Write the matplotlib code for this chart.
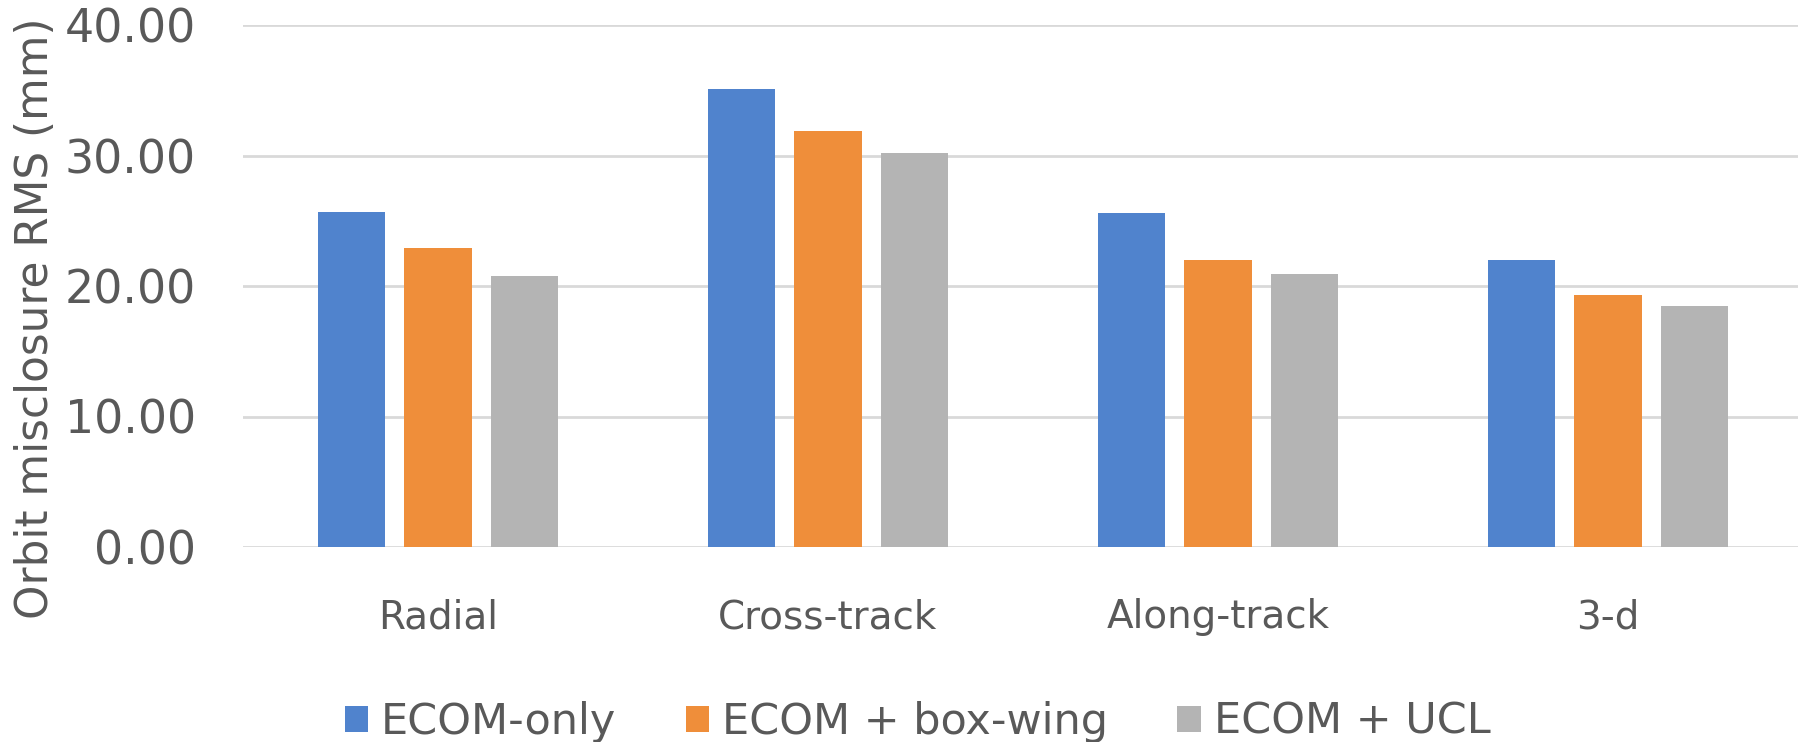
import matplotlib
matplotlib.use("Agg")
import matplotlib.pyplot as plt
import numpy as np
from matplotlib.patches import Patch

categories = ["Radial", "Cross-track", "Along-track", "3-d"]
series_names = ["ECOM-only", "ECOM + box-wing", "ECOM + UCL"]
ecom_only = [25.7, 35.1, 25.6, 22.0]
ecom_boxwing = [22.9, 31.9, 22.0, 19.3]
ecom_ucl = [20.8, 30.2, 20.9, 18.5]
y_ticks = [0, 10, 20, 30, 40]

colors = ["#5083CD", "#EF8E3A", "#B4B4B4"]
text_color = "#595959"
grid_color = "#D9D9D9"

plt.rcParams["font.family"] = ["DejaVu Sans"]

W, H = 1799, 742
fig = plt.figure(figsize=(W / 100, H / 100), dpi=100)
ax = fig.add_axes([243 / W, 1 - 547 / H, 1560 / W, 522 / H])

x = np.arange(len(categories))
bar_w = 0.1735
step = 0.222
for i, (vals, name, col) in enumerate(zip([ecom_only, ecom_boxwing, ecom_ucl], series_names, colors)):
    ax.bar(x + (i - 1) * step, vals, width=bar_w, color=col, label=name, zorder=3)

ax.set_xlim(-0.5, len(categories) - 0.5)
ax.set_ylim(0, 40)
ax.set_yticks(y_ticks)
ax.set_yticklabels([f"{v:.2f}" for v in y_ticks])
ax.set_xticks(x)
ax.set_xticklabels(categories)
ax.yaxis.grid(True, color=grid_color, linewidth=2, zorder=0)
for s in ax.spines.values():
    s.set_visible(False)
ax.tick_params(axis="y", length=0, pad=34, labelsize=33, labelcolor=text_color)
ax.tick_params(axis="x", length=0, pad=37, labelsize=28, labelcolor=text_color)

fig.text(36 / W, 1 - 318 / H, "Orbit misclosure RMS (mm)", rotation=90,
         ha="center", va="center", fontsize=31.5, color=text_color)

handles = [Patch(facecolor=c, edgecolor="none") for c in colors]
leg = fig.legend(handles, series_names, loc="center", bbox_to_anchor=(0.51, 1 - 722 / H),
                 ncol=3, frameon=False, fontsize=31, handlelength=0.55, handleheight=0.55,
                 handletextpad=0.3, columnspacing=1.6, borderaxespad=0, borderpad=0)
for t in leg.get_texts():
    t.set_color(text_color)

fig.savefig("out.png", dpi=100, facecolor="white")
